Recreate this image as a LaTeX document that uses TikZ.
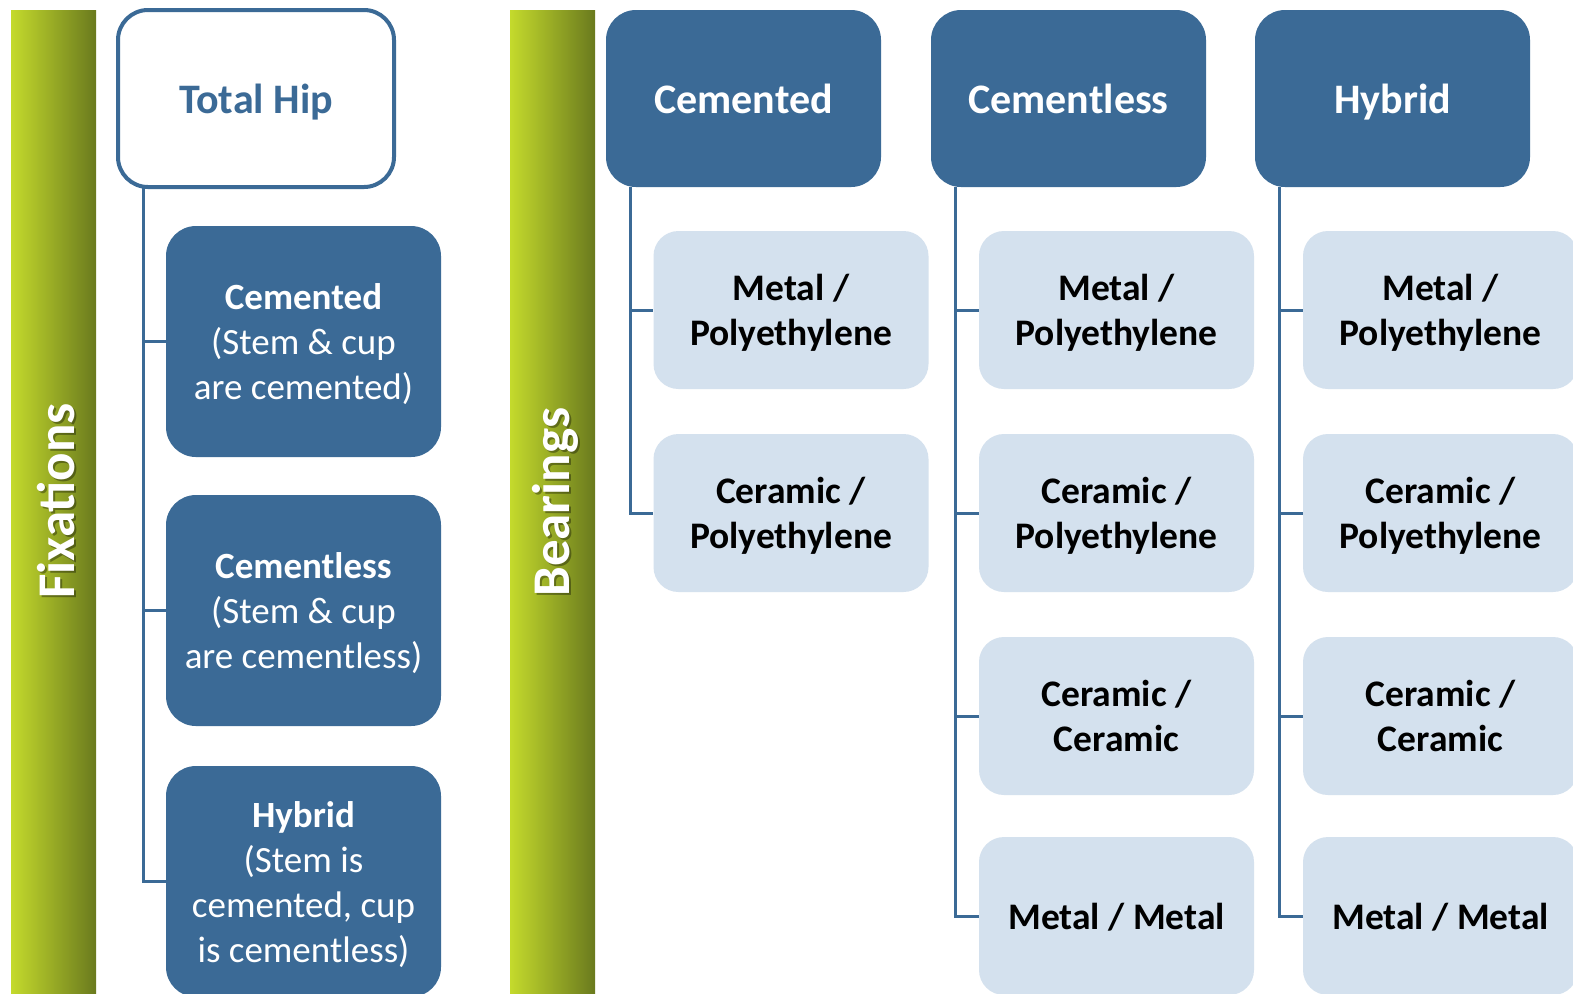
\documentclass[tikz,border=0pt]{standalone}
\usepackage{fontspec}
\setmainfont{Carlito}
\definecolor{hipblue}{RGB}{59,106,150}
\definecolor{hiplight}{RGB}{212,225,238}
\definecolor{barlight}{RGB}{196,218,44}
\definecolor{bardark}{RGB}{106,122,30}
\tikzset{
  headbox/.style={fill=hipblue, rounded corners=15pt, inner sep=0pt, text=white,
    minimum width=137.5pt, minimum height=88.5pt, align=center, text depth=0pt,
    font=\fontsize{21}{25}\selectfont\bfseries},
  fixbox/.style={fill=hipblue, rounded corners=15pt, inner sep=0pt, text=white,
    minimum width=137.5pt, minimum height=115.5pt, align=center, text depth=0pt,
    font=\fontsize{18.5}{22.5}\selectfont},
  bearbox/.style={fill=hiplight, rounded corners=12.5pt, inner sep=0pt, text=black,
    minimum width=137.5pt, minimum height=79pt, align=center, text depth=0pt,
    font=\fontsize{18.75}{22.5}\selectfont\bfseries},
  conn/.style={draw=hipblue, line width=1.5pt},
  bartext/.style={rotate=90, text=white, font=\fontsize{26.5}{30}\selectfont\bfseries},
  barshadow/.style={rotate=90, text=black, opacity=0.35, font=\fontsize{26.5}{30}\selectfont\bfseries},
}
\begin{document}
\begin{tikzpicture}[x=0.5pt, y=-0.5pt]
\useasboundingbox (0,0) rectangle (1573,993);
\clip (0,0) rectangle (1573,993);
\fill[white] (0,0) rectangle (1573,993);

% side bars
\shade[left color=barlight, right color=bardark] (11,10) rectangle (96,1000);
\shade[left color=barlight, right color=bardark] (510,10) rectangle (595,1000);
\node[barshadow] (fixs) at (58.5,503) {Fixations};
\node[bartext] (fix) at (56,501) {Fixations};
\node[barshadow] (bears) at (557.5,504) {Bearings};
\node[bartext] (bear) at (555,502) {Bearings};

% fixations tree
\node[draw=hipblue, line width=2pt, fill=white, rounded corners=15pt, inner sep=0pt,
  minimum width=138pt, minimum height=88.5pt, text=hipblue, text depth=0pt,
  font=\fontsize{21}{25}\selectfont\bfseries] (th) at (256,98.5) {Total Hip};
\node[fixbox] (f1) at (303.5,341.5) {\textbf{Cemented}\\(Stem \& cup\\are cemented)};
\node[fixbox] (f2) at (303.5,610.5) {\textbf{Cementless}\\(Stem \& cup\\are cementless)};
\node[fixbox] (f3) at (303.5,881.5) {\textbf{Hybrid}\\(Stem is\\cemented, cup\\is cementless)};
\coordinate (tr) at (143,187);
\draw[conn] (tr) |- (f1.west);
\draw[conn] (tr) |- (f2.west);
\draw[conn] (tr) |- (f3.west);

% bearings columns
\node[headbox] (hc) at (743.5,98.5) {Cemented};
\node[headbox] (hl) at (1068.5,98.5) {Cementless};
\node[headbox] (hh) at (1392.5,98.5) {Hybrid};

\node[bearbox] (c1) at (791,310) {Metal /\\Polyethylene};
\node[bearbox] (c2) at (791,513) {Ceramic /\\Polyethylene};

\node[bearbox] (l1) at (1116.5,310) {Metal /\\Polyethylene};
\node[bearbox] (l2) at (1116.5,513) {Ceramic /\\Polyethylene};
\node[bearbox] (l3) at (1116.5,716) {Ceramic /\\Ceramic};
\node[bearbox] (l4) at (1116.5,916) {Metal / Metal};

\node[bearbox] (y1) at (1440.5,310) {Metal /\\Polyethylene};
\node[bearbox] (y2) at (1440.5,513) {Ceramic /\\Polyethylene};
\node[bearbox] (y3) at (1440.5,716) {Ceramic /\\Ceramic};
\node[bearbox] (y4) at (1440.5,916) {Metal / Metal};

\coordinate (tc) at (630,187);
\coordinate (tl) at (955,187);
\coordinate (ty) at (1279,187);
\draw[conn] (tc) |- (c1.west);
\draw[conn] (tc) |- (c2.west);
\draw[conn] (tl) |- (l1.west);
\draw[conn] (tl) |- (l2.west);
\draw[conn] (tl) |- (l3.west);
\draw[conn] (tl) |- (l4.west);
\draw[conn] (ty) |- (y1.west);
\draw[conn] (ty) |- (y2.west);
\draw[conn] (ty) |- (y3.west);
\draw[conn] (ty) |- (y4.west);
\end{tikzpicture}
\end{document}
